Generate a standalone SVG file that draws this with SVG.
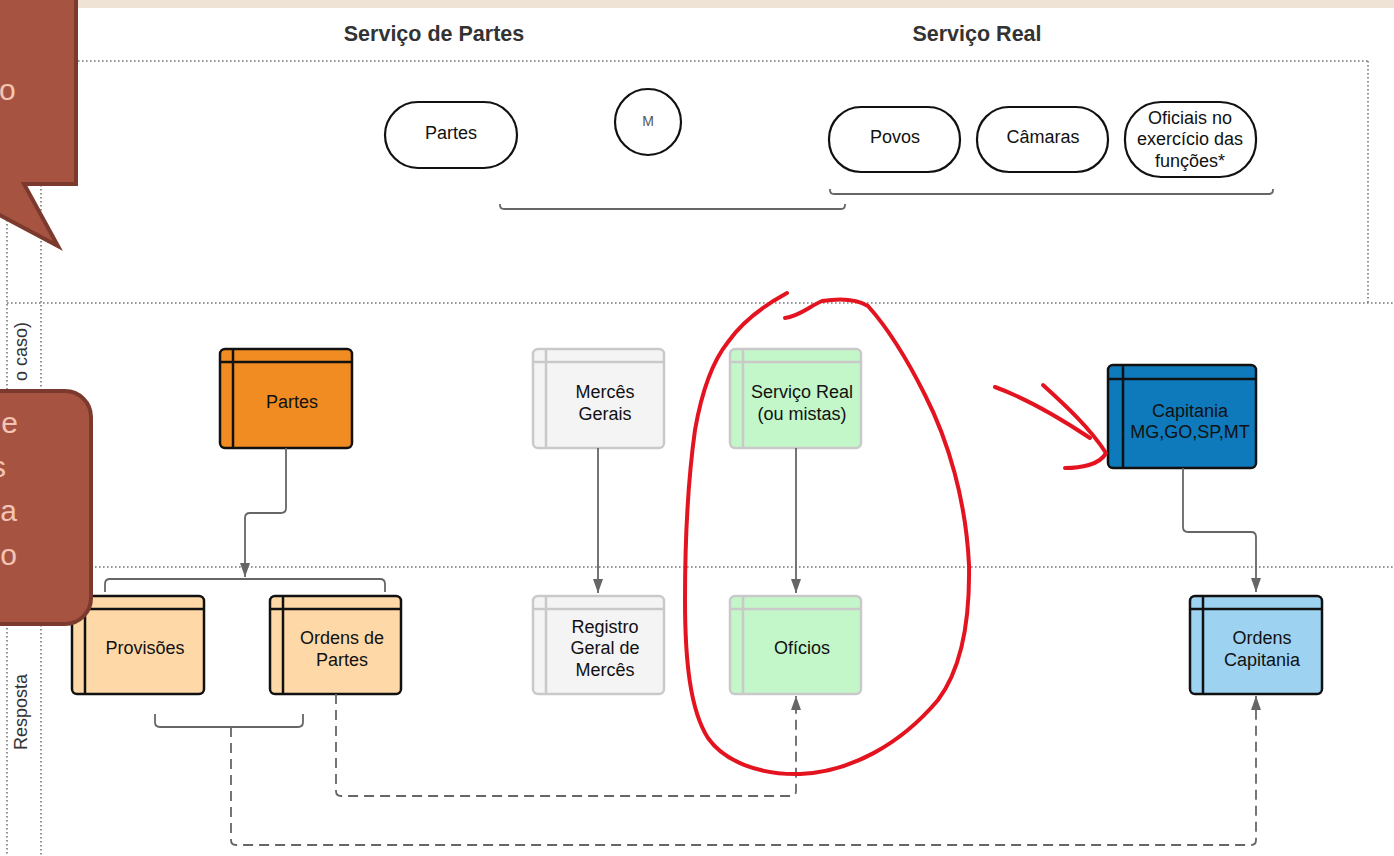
<svg xmlns="http://www.w3.org/2000/svg" width="1394" height="856" viewBox="0 0 1394 856">
<defs>
<style>
.t{font-family:"Liberation Sans",Arial,sans-serif;font-size:18px;fill:#111;text-anchor:middle}
.h{font-family:"Liberation Sans",Arial,sans-serif;font-size:21.5px;font-weight:bold;fill:#333;text-anchor:middle}
.lane{font-family:"Liberation Sans",Arial,sans-serif;font-size:18px;fill:#333}
.dot{stroke:#777;stroke-width:1.6;stroke-dasharray:1.6 2.4;fill:none}
.term{fill:#fff;stroke:#111;stroke-width:2.2}
.blk{stroke:#111;stroke-width:2.5}
.gry{stroke:#c9c9c9;stroke-width:2.5}
.con{fill:none;stroke:#666;stroke-width:1.8}
.dash{fill:none;stroke:#666;stroke-width:1.8;stroke-dasharray:10 6}
.red{fill:none;stroke:#e3141f;stroke-width:4;stroke-linecap:round;stroke-linejoin:round}
.call{fill:#a65441;stroke:#7b3a2d;stroke-width:4}
.ct{font-family:"Liberation Sans",Arial,sans-serif;font-size:30px;fill:#f4c4b4}
</style>
<marker id="ar" viewBox="0 0 14 10" refX="14" refY="5" markerWidth="14" markerHeight="10" markerUnits="userSpaceOnUse" orient="auto">
<path d="M0,0 L14,5 L0,10 Z" fill="#666"/>
</marker>
</defs>
<rect width="1394" height="856" fill="#fff"/>
<rect width="1394" height="8" fill="#efe3d6"/>

<g id="lanes">
<line class="dot" x1="42" y1="61" x2="1368" y2="61"/>
<line class="dot" x1="1368" y1="61" x2="1368" y2="303"/>
<line class="dot" x1="7" y1="0" x2="7" y2="856"/>
<line class="dot" x1="41" y1="61" x2="41" y2="856"/>
<line class="dot" x1="7" y1="303" x2="1394" y2="303"/>
<line class="dot" x1="7" y1="567" x2="1394" y2="567"/>
<text class="lane" transform="translate(27,322) rotate(-90)" text-anchor="end">o caso)</text>
<text class="lane" transform="translate(27,712) rotate(-90)" text-anchor="middle">Resposta</text>
</g>

<text class="h" x="434" y="41">Serviço de Partes</text>
<text class="h" x="977" y="41">Serviço Real</text>

<g id="n-partes-top"><rect class="term" x="385" y="102" width="132" height="66" rx="33"/><text class="t" x="451" y="139">Partes</text></g>
<g id="n-m"><circle class="term" cx="648" cy="122" r="33"/><text class="t" x="648" y="126" style="font-size:14px;fill:#555">M</text></g>
<g id="n-povos"><rect class="term" x="829" y="107" width="131" height="65" rx="32"/><text class="t" x="895" y="143">Povos</text></g>
<g id="n-camaras"><rect class="term" x="977" y="107" width="131" height="65" rx="32"/><text class="t" x="1043" y="143">Câmaras</text></g>
<g id="n-oficiais"><rect class="term" x="1125" y="102" width="131" height="75" rx="36"/><text class="t" x="1190" y="124">Oficiais no</text><text class="t" x="1190" y="145">exercício das</text><text class="t" x="1190" y="167">funções*</text></g>

<g id="n-partes"><rect class="blk" x="220" y="349" width="132" height="99" rx="5" fill="#f08c22"/><line class="blk" x1="220" y1="362" x2="352" y2="362"/><line class="blk" x1="233" y1="349" x2="233" y2="448"/><text class="t" x="292" y="408">Partes</text></g>
<g id="n-merces"><rect class="gry" x="533" y="349" width="131" height="99" rx="5" fill="#f4f4f4"/><line class="gry" x1="533" y1="362" x2="664" y2="362"/><line class="gry" x1="546" y1="349" x2="546" y2="448"/><text class="t" x="605" y="398">Mercês</text><text class="t" x="605" y="420">Gerais</text></g>
<g id="n-servreal"><rect class="gry" x="730" y="349" width="131" height="99" rx="5" fill="#c3f6c8"/><line class="gry" x1="730" y1="362" x2="861" y2="362"/><line class="gry" x1="743" y1="349" x2="743" y2="448"/><text class="t" x="802" y="398">Serviço Real</text><text class="t" x="802" y="420">(ou mistas)</text></g>
<g id="n-capitania"><rect class="blk" x="1108" y="365" width="148" height="103" rx="5" fill="#0e79bb"/><line class="blk" x1="1108" y1="379" x2="1256" y2="379"/><line class="blk" x1="1123" y1="365" x2="1123" y2="468"/><text class="t" x="1190" y="417">Capitania</text><text class="t" x="1190" y="438">MG,GO,SP,MT</text></g>

<g id="n-provisoes"><rect class="blk" x="72" y="596" width="132" height="98" rx="5" fill="#fed9a7"/><line class="blk" x1="72" y1="609" x2="204" y2="609"/><line class="blk" x1="85" y1="596" x2="85" y2="694"/><text class="t" x="145" y="654">Provisões</text></g>
<g id="n-ordens-partes"><rect class="blk" x="270" y="596" width="131" height="98" rx="5" fill="#fed9a7"/><line class="blk" x1="270" y1="609" x2="401" y2="609"/><line class="blk" x1="283" y1="596" x2="283" y2="694"/><text class="t" x="342" y="644">Ordens de</text><text class="t" x="342" y="666">Partes</text></g>
<g id="n-registro"><rect class="gry" x="533" y="596" width="131" height="98" rx="5" fill="#f4f4f4"/><line class="gry" x1="533" y1="609" x2="664" y2="609"/><line class="gry" x1="546" y1="596" x2="546" y2="694"/><text class="t" x="605" y="633">Registro</text><text class="t" x="605" y="654">Geral de</text><text class="t" x="605" y="676">Mercês</text></g>
<g id="n-oficios"><rect class="gry" x="730" y="596" width="131" height="98" rx="5" fill="#c3f6c8"/><line class="gry" x1="730" y1="609" x2="861" y2="609"/><line class="gry" x1="743" y1="596" x2="743" y2="694"/><text class="t" x="802" y="654">Ofícios</text></g>
<g id="n-ordens-cap"><rect class="blk" x="1190" y="596" width="132" height="98" rx="5" fill="#9dd3f1"/><line class="blk" x1="1190" y1="609" x2="1322" y2="609"/><line class="blk" x1="1203" y1="596" x2="1203" y2="694"/><text class="t" x="1262" y="644">Ordens</text><text class="t" x="1262" y="666">Capitania</text></g>

<g id="connectors">
<path class="con" d="M500,204 V205 Q500,209 504,209 H841 Q845,209 845,205 V204"/>
<path class="con" d="M830,189 V190 Q830,194 834,194 H1269 Q1273,194 1273,190 V189"/>
<path class="con" d="M286,448 V508 Q286,513 281,513 H250 Q245,513 245,518 V577" marker-end="url(#ar)"/>
<path class="con" d="M105,592 V584 Q105,579 110,579 H380 Q385,579 385,584 V592"/>
<path class="con" d="M598,448 V593" marker-end="url(#ar)"/>
<path class="con" d="M796,448 V593" marker-end="url(#ar)"/>
<path class="con" d="M1183,468 V527 Q1183,532 1188,532 H1251 Q1256,532 1256,537 V592" marker-end="url(#ar)"/>
<path class="con" d="M155,714 V722 Q155,727 160,727 H298 Q303,727 303,722 V714"/>
<path class="dash" d="M231,727 V840 Q231,845 236,845 H1251 Q1256,845 1256,840 V696" marker-end="url(#ar)"/>
<path class="dash" d="M336,694 V791 Q336,796 341,796 H791 Q796,796 796,791 V696" marker-end="url(#ar)"/>
</g>

<g id="annotations">
<path class="red" d="M787,293 C765,305 742,322 728,342 C712,362 702,390 695,430 C688,480 685,540 685,600 C685,660 690,710 708,738 C725,762 760,775 800,774 C850,772 900,745 938,700 C962,668 970,620 969,565 C966,500 948,440 925,395 C905,355 885,325 868,306 C855,298 835,299 822,301 C810,306 800,316 785,318"/>
<path class="red" d="M995,387 C1025,398 1060,418 1090,438"/>
<path class="red" d="M1043,385 C1065,405 1090,428 1106,453 C1100,465 1080,468 1065,468"/>
</g>

<g id="callouts">
<path class="call" d="M-10,-10 H76 V184 H24 L58,246 L-10,210 Z"/>
<text class="ct" x="-1" y="100">o</text>
<rect class="call" x="-40" y="391" width="131" height="233" rx="26"/>
<text class="ct" x="18" y="433" text-anchor="end">e</text>
<text class="ct" x="6" y="477" text-anchor="end">s</text>
<text class="ct" x="17" y="521" text-anchor="end">a</text>
<text class="ct" x="17" y="565" text-anchor="end">o</text>
</g>
</svg>
